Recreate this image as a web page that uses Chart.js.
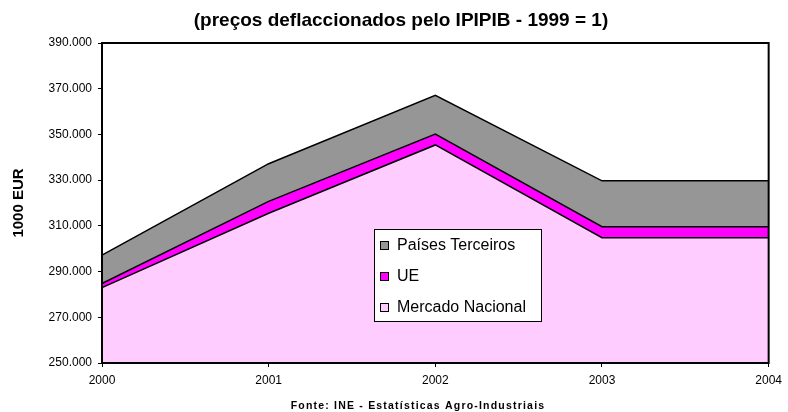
<!DOCTYPE html>
<html>
<head>
<meta charset="utf-8">
<script src="https://cdn.jsdelivr.net/npm/chart.js@4.4.1/dist/chart.umd.min.js"></script>
<style>
  html, body { margin: 0; padding: 0; background: #fff; }
  #wrap { width: 788px; height: 412px; }
</style>
</head>
<body>
<div id="wrap"><canvas id="chart" width="788" height="412"></canvas></div>
<script>
// values in 1000 EUR, stacked bottom to top
const years = ['2000', '2001', '2002', '2003', '2004'];
const mercadoNacional = [283000, 315500, 345400, 304800, 304800];
const ue = [1800, 5200, 4800, 4800, 4800];
const paisesTerceiros = [12400, 16500, 16900, 20100, 20100];

const yMin = 250000;
const yMax = 390000;
const yStep = 20000;

const titleText = '(preços deflaccionados pelo IPIPIB - 1999 = 1)';
const sourceText = 'Fonte: INE - Estatísticas Agro-Industriais';
const yAxisTitle = '1000 EUR';

const FONT = '"Liberation Sans", Arial, sans-serif';

// border around the whole plot area
const frame = {
    id: 'frame',
    afterDatasetsDraw(chart) {
        const { ctx, chartArea: a } = chart;
        ctx.save();
        ctx.strokeStyle = '#000';
        ctx.lineWidth = 2;
        ctx.strokeRect(a.left, a.top, a.right - a.left, a.bottom - a.top);
        ctx.restore();
    }
};

// boxed legend sitting inside the plot, top series first
const boxLegend = {
    id: 'boxLegend',
    afterDraw(chart) {
        const ctx = chart.ctx;
        const x = 374, y = 229, w = 167, h = 92;
        ctx.save();
        ctx.fillStyle = '#fff';
        ctx.fillRect(x, y, w, h);
        ctx.strokeStyle = '#000';
        ctx.lineWidth = 1;
        ctx.strokeRect(x + 0.5, y + 0.5, w, h);
        ctx.font = `16px ${FONT}`;
        ctx.textBaseline = 'middle';
        chart.data.datasets.slice().reverse().forEach((ds, i) => {
            const cy = y + 16 + i * 31;
            ctx.fillStyle = ds.backgroundColor;
            ctx.fillRect(x + 6, cy - 4, 9, 9);
            ctx.strokeRect(x + 6.5, cy - 3.5, 8, 8);
            ctx.fillStyle = '#000';
            ctx.fillText(ds.label, x + 23, cy + 1);
        });
        ctx.restore();
    }
};

// heading and source line
const captions = {
    id: 'captions',
    afterDraw(chart) {
        const ctx = chart.ctx;
        ctx.save();
        ctx.fillStyle = '#000';
        ctx.textAlign = 'center';
        ctx.textBaseline = 'middle';
        ctx.font = `bold 19px ${FONT}`;
        ctx.fillText(titleText, 401, 21);
        ctx.font = `bold 10.5px ${FONT}`;
        ctx.letterSpacing = '1.2px';
        ctx.fillText(sourceText, 418, 406);
        ctx.restore();
    }
};

const lineStyle = { borderColor: '#000', borderWidth: 1.5, pointRadius: 0, tension: 0 };

new Chart(document.getElementById('chart'), {
    type: 'line',
    data: {
        labels: years,
        datasets: [
            { label: 'Mercado Nacional', data: mercadoNacional, backgroundColor: '#ffccff', fill: 'start', ...lineStyle },
            { label: 'UE', data: ue, backgroundColor: '#ff00ff', fill: '-1', ...lineStyle },
            { label: 'Países Terceiros', data: paisesTerceiros, backgroundColor: '#969696', fill: '-1', ...lineStyle }
        ]
    },
    options: {
        responsive: false,
        animation: false,
        layout: { padding: { top: 43, right: 15, bottom: 0, left: 0 } },
        plugins: {
            legend: { display: false },
            title: { display: false },
            tooltip: { enabled: false }
        },
        scales: {
            x: {
                offset: false,
                border: { display: false },
                grid: { drawOnChartArea: false, color: '#000', tickLength: 4 },
                ticks: { color: '#000', font: { family: FONT, size: 12 }, padding: 6, maxRotation: 0 },
                afterFit(scale) { scale.height = 49; }
            },
            y: {
                stacked: true,
                min: yMin,
                max: yMax,
                border: { display: false },
                grid: { drawOnChartArea: false, color: '#000', tickLength: 4 },
                ticks: {
                    stepSize: yStep,
                    color: '#000',
                    font: { family: FONT, size: 12 },
                    padding: 6,
                    callback: v => v.toLocaleString('de-DE')
                },
                title: {
                    display: true,
                    text: yAxisTitle,
                    color: '#000',
                    font: { family: FONT, size: 15, weight: 'bold' },
                    padding: { top: 10, bottom: 0 }
                },
                afterFit(scale) { scale.width = 102; }
            }
        }
    },
    plugins: [frame, boxLegend, captions]
});
</script>
</body>
</html>
